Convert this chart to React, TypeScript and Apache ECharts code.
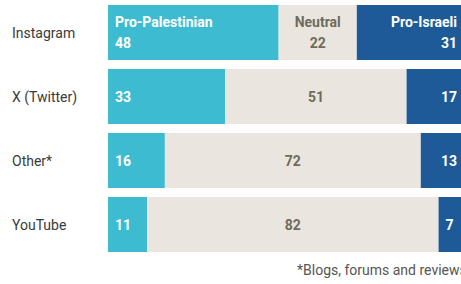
import React, { useEffect, useRef } from "react";
import * as echarts from "echarts";

const platforms = ["Instagram", "X (Twitter)", "Other*", "YouTube"];
const seriesNames = ["Pro-Palestinian", "Neutral", "Pro-Israeli"];
const proPalestinian = [48, 33, 16, 11];
const neutral = [22, 51, 72, 82];
const proIsraeli = [31, 17, 13, 7];
const footnote = "*Blogs, forums and reviews";

const FONT = "Roboto, 'Open Sans', sans-serif";

export default function App() {
  const ref = useRef<HTMLDivElement>(null);
  useEffect(() => {
    if (!ref.current) return;
    const chart = echarts.init(ref.current, null, { renderer: "svg" });
    const fmt = (p: any) =>
      p.dataIndex === 0 ? `${p.seriesName}\n${p.value}` : `${p.value}`;
    const baseLabel = {
      show: true,
      formatter: fmt,
      fontFamily: FONT,
      fontWeight: "bold" as const,
      fontSize: 14,
      lineHeight: 21,
    };
    chart.setOption({
      animation: false,
      backgroundColor: "#ffffff",
      grid: {
        left: 108,
        top: 0.5,
        height: 256,
        width: 359,
        containLabel: false,
        outerBoundsMode: "none",
      },
      xAxis: {
        type: "value",
        min: 0,
        max: 101,
        show: false,
      },
      yAxis: {
        type: "category",
        data: platforms,
        inverse: true,
        axisLine: { show: false },
        axisTick: { show: false },
        axisLabel: {
          align: "left",
          margin: 96,
          color: "#3a3a3a",
          fontFamily: FONT,
          fontSize: 14,
        },
      },
      series: [
        {
          name: seriesNames[0],
          type: "bar",
          stack: "all",
          data: proPalestinian,
          barWidth: 55,
          itemStyle: { color: "#3dbcd1" },
          label: { ...baseLabel, position: "insideLeft", distance: 7, color: "#ffffff" },
        },
        {
          name: seriesNames[1],
          type: "bar",
          stack: "all",
          data: neutral,
          barWidth: 55,
          itemStyle: { color: "#eae6df" },
          label: { ...baseLabel, position: "inside", color: "#6f6b5c" },
        },
        {
          name: seriesNames[2],
          type: "bar",
          stack: "all",
          data: proIsraeli,
          barWidth: 55,
          itemStyle: { color: "#1e5a98" },
          label: { ...baseLabel, position: "insideRight", distance: 10, color: "#ffffff" },
        },
      ],
      graphic: [
        {
          type: "text",
          left: 297,
          top: 263,
          style: {
            text: footnote,
            fill: "#555555",
            fontFamily: FONT,
            fontSize: 14,
          },
        },
      ],
    });
    return () => chart.dispose();
  }, []);
  return (
    <div
      ref={ref}
      style={{ position: "fixed", left: 0, top: 0, width: 461, height: 284 }}
    />
  );
}
